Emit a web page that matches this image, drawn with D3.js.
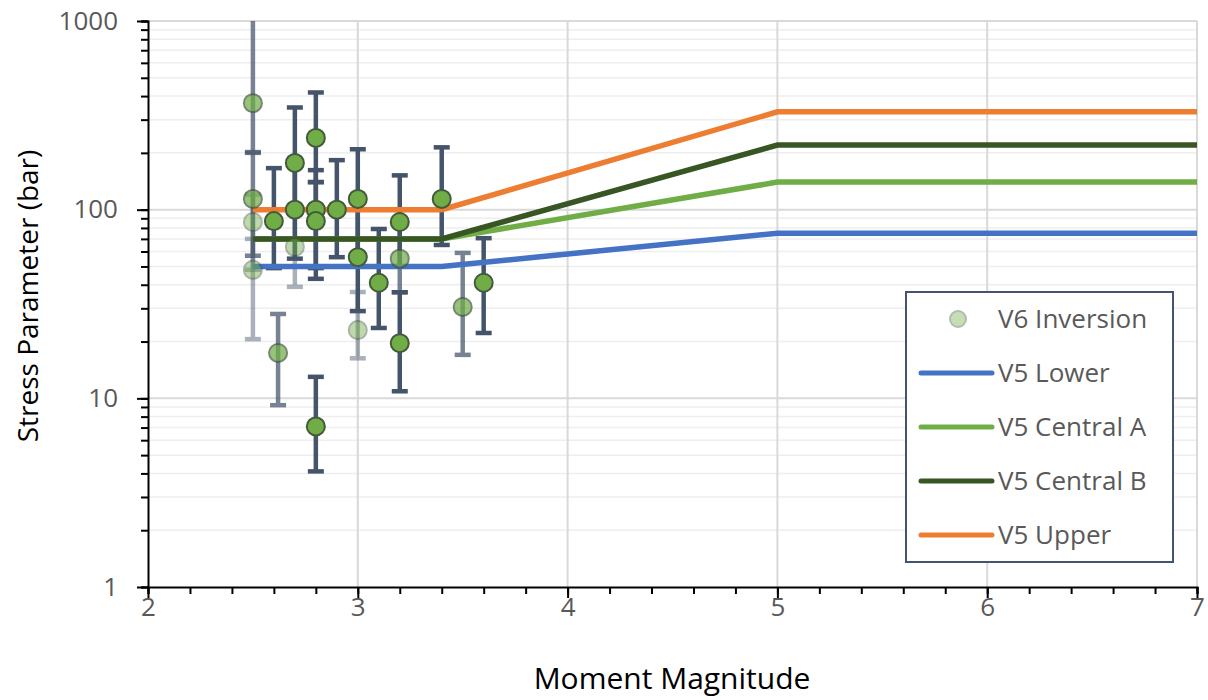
<!DOCTYPE html>
<html>
<head>
<meta charset="utf-8">
<script src="https://cdn.jsdelivr.net/npm/d3@7"></script>
<style>
  body { margin: 0; background: #fff; }
  text { font-family: "Open Sans", "Noto Sans", sans-serif; }
</style>
</head>
<body>
<script>
// V6 inversion results (magnitude, stress, error range, number of overlapping records)
const invMagnitude = [2.5, 2.5, 2.5, 2.5, 2.6, 2.62, 2.7, 2.7, 2.7, 2.8, 2.8, 2.8, 2.8, 2.9, 3.0, 3.0, 3.0, 3.1, 3.2, 3.2, 3.2, 3.4, 3.5, 3.6];
const invStress = [367, 114, 86, 48, 87, 17.4, 177, 100, 63.5, 240, 100, 87, 7.1, 100, 114, 56, 23, 41, 86, 55, 19.6, 114, 30.5, 41];
const invLow = [200, 57, 48, 20.6, 49, 9.2, 95, 55, 39, 140, 49, 43, 4.1, 56, 56, 29, 16.3, 23.6, 50, 36.5, 10.9, 65, 17, 22.2];
const invHigh = [1500, 202, 120, 70, 166, 28, 348, 180, 100, 418, 162, 140, 13, 183, 209, 110, 36.6, 79, 152, 90, 36.5, 214, 59, 70.6];
const invCount = [2, 2, 1, 1, 3, 2, 3, 3, 1, 3, 3, 3, 3, 3, 3, 3, 1, 3, 3, 2, 3, 3, 2, 3];

// V5 model lines
const lineMagnitude = [2.5, 3.4, 5, 7];
const v5Lower = [50, 50, 75, 75];
const v5CentralA = [70, 70, 140, 140];
const v5CentralB = [70, 70, 220, 220];
const v5Upper = [100, 100, 330, 330];

const xTicks = [2, 3, 4, 5, 6, 7];
const yTicks = [1, 10, 100, 1000];

const width = 1208;
const height = 700;
const margin = { left: 148, right: 11, top: 21, bottom: 113 };

const x = d3.scaleLinear().domain([2, 7]).range([margin.left, width - margin.right]);
const y = d3.scaleLog().domain([1, 1000]).range([height - margin.bottom, margin.top]);

const svg = d3.select('body').append('svg')
  .attr('width', width)
  .attr('height', height);

// grid
const minorY = [];
[1, 10, 100].forEach((d) => { for (let k = 2; k <= 9; k++) minorY.push(d * k); });
svg.append('g').selectAll('line').data(minorY).join('line')
  .attr('x1', x(2)).attr('x2', x(7))
  .attr('y1', (d) => y(d)).attr('y2', (d) => y(d))
  .attr('stroke', '#eeeeee').attr('stroke-width', 1.5);
svg.append('g').selectAll('line').data(yTicks.slice(1)).join('line')
  .attr('x1', x(2)).attr('x2', x(7))
  .attr('y1', (d) => y(d)).attr('y2', (d) => y(d))
  .attr('stroke', '#d9d9d9').attr('stroke-width', 2);
svg.append('g').selectAll('line').data(xTicks.slice(1)).join('line')
  .attr('x1', (d) => x(d)).attr('x2', (d) => x(d))
  .attr('y1', y(1)).attr('y2', y(1000))
  .attr('stroke', '#d9d9d9').attr('stroke-width', 2);

// axes
const minorX = d3.range(0, 26).map((i) => 2 + i * 0.2);
const gx = svg.append('g').attr('transform', `translate(0, ${y(1)})`);
gx.call(d3.axisBottom(x).tickValues(minorX).tickSize(7).tickFormat(''));
gx.call((g) => g.selectAll('.tick line').attr('stroke', '#000').attr('stroke-width', 2));
gx.append('g').call(d3.axisBottom(x).tickValues(xTicks).tickSize(11).tickPadding(2).tickFormat(d3.format('d')))
  .call((g) => g.select('.domain').remove())
  .call((g) => g.selectAll('.tick line').attr('stroke', '#000').attr('stroke-width', 2))
  .call((g) => g.selectAll('.tick text').attr('fill', '#595959').attr('font-size', 26).attr('dy', '0.6em'));
gx.select('.domain').attr('stroke', '#000').attr('stroke-width', 2);

const gy = svg.append('g').attr('transform', `translate(${x(2)}, 0)`);
gy.call(d3.axisLeft(y).tickValues(minorY.concat(yTicks)).tickSize(7).tickFormat(''));
gy.call((g) => g.selectAll('.tick line').attr('stroke', '#000').attr('stroke-width', 2));
gy.append('g').call(d3.axisLeft(y).tickValues(yTicks).tickSize(11).tickPadding(19).tickFormat(d3.format('d')))
  .call((g) => g.select('.domain').remove())
  .call((g) => g.selectAll('.tick line').attr('stroke', '#000').attr('stroke-width', 2))
  .call((g) => g.selectAll('.tick text').attr('fill', '#595959').attr('font-size', 26));
gy.select('.domain').attr('stroke', '#000').attr('stroke-width', 2);

// axis titles
svg.append('text')
  .attr('x', 672).attr('y', 689)
  .attr('text-anchor', 'middle')
  .attr('font-size', 30)
  .attr('fill', '#000')
  .text('Moment Magnitude');
svg.append('text')
  .attr('transform', 'translate(38, 296) rotate(-90)')
  .attr('text-anchor', 'middle')
  .attr('font-size', 28)
  .attr('fill', '#000')
  .text('Stress Parameter (bar)');

// clip to plot area
svg.append('clipPath').attr('id', 'plot-clip')
  .append('rect')
  .attr('x', x(2)).attr('y', y(1000))
  .attr('width', x(7) - x(2)).attr('height', y(1) - y(1000));

const points = invMagnitude.map((m, i) => ({
  m, v: invStress[i], lo: invLow[i], hi: invHigh[i], n: invCount[i],
}));
// overlapping records look darker
const alpha = (n) => [0, 0.45, 0.72, 1][n];

// error bars
const errG = svg.append('g').attr('clip-path', 'url(#plot-clip)');
const bars = errG.selectAll('g').data(points).join('g')
  .attr('stroke', '#44546a')
  .attr('opacity', (d) => alpha(d.n));
bars.append('line')
  .attr('x1', (d) => x(d.m)).attr('x2', (d) => x(d.m))
  .attr('y1', (d) => y(d.lo)).attr('y2', (d) => y(d.hi))
  .attr('stroke-width', 4.5);
bars.append('line')
  .attr('x1', (d) => x(d.m) - 8).attr('x2', (d) => x(d.m) + 8)
  .attr('y1', (d) => y(d.lo)).attr('y2', (d) => y(d.lo))
  .attr('stroke-width', 4.5);
bars.append('line')
  .attr('x1', (d) => x(d.m) - 8).attr('x2', (d) => x(d.m) + 8)
  .attr('y1', (d) => y(d.hi)).attr('y2', (d) => y(d.hi))
  .attr('stroke-width', 4.5);

// V5 lines
const series = [
  { name: 'V5 Lower', values: v5Lower, color: '#4472c4' },
  { name: 'V5 Central A', values: v5CentralA, color: '#70ad47' },
  { name: 'V5 Central B', values: v5CentralB, color: '#375623' },
  { name: 'V5 Upper', values: v5Upper, color: '#ed7d31' },
];
const line = d3.line().x((d) => x(d[0])).y((d) => y(d[1]));
svg.append('g').selectAll('path').data(series).join('path')
  .attr('d', (s) => line(lineMagnitude.map((m, i) => [m, s.values[i]])))
  .attr('fill', 'none')
  .attr('stroke', (s) => s.color)
  .attr('stroke-width', 5.5);

// points
svg.append('g').selectAll('circle').data(points).join('circle')
  .attr('cx', (d) => x(d.m))
  .attr('cy', (d) => y(d.v))
  .attr('r', 9)
  .attr('fill', '#70ad47')
  .attr('stroke', '#435a3c')
  .attr('stroke-width', 2)
  .attr('opacity', (d) => alpha(d.n));

// legend
const legend = svg.append('g').attr('transform', 'translate(906, 292)');
legend.append('rect')
  .attr('width', 267).attr('height', 270)
  .attr('fill', '#fff')
  .attr('stroke', '#44546a')
  .attr('stroke-width', 2);
legend.append('circle')
  .attr('cx', 52).attr('cy', 27).attr('r', 8)
  .attr('fill', '#70ad47').attr('stroke', '#435a3c').attr('stroke-width', 2)
  .attr('opacity', 0.4);
legend.append('text')
  .attr('x', 92).attr('y', 27).attr('dy', '0.35em')
  .attr('font-size', 26).attr('fill', '#595959')
  .text('V6 Inversion');
series.forEach((s, i) => {
  const yy = 81 + i * 54;
  legend.append('line')
    .attr('x1', 15).attr('x2', 86)
    .attr('y1', yy).attr('y2', yy)
    .attr('stroke', s.color).attr('stroke-width', 5)
    .attr('stroke-linecap', 'round');
  legend.append('text')
    .attr('x', 92).attr('y', yy).attr('dy', '0.35em')
    .attr('font-size', 26).attr('fill', '#595959')
    .text(s.name);
});
</script>
</body>
</html>
